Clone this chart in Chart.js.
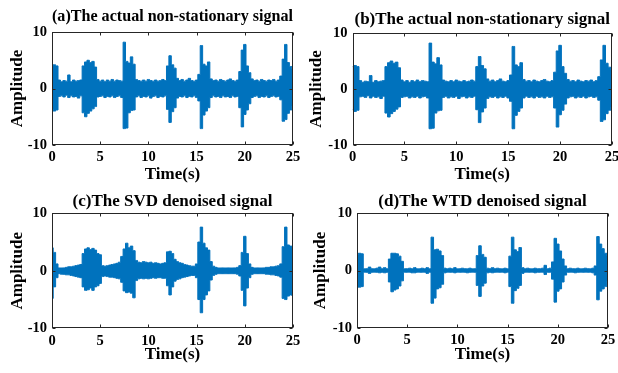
<!DOCTYPE html>
<html>
<head>
<meta charset="utf-8">
<script src="https://cdn.jsdelivr.net/npm/chart.js@4.4.1/dist/chart.umd.min.js"></script>
<style>
  body { margin: 0; background: #fff; }
  #wrap { position: relative; width: 618px; height: 373px; overflow: hidden; }
  canvas { position: absolute; }
</style>
</head>
<body>
<div id="wrap">
  <canvas id="pa" width="305" height="185" style="left:0;top:0"></canvas>
  <canvas id="pb" width="313" height="185" style="left:305px;top:0"></canvas>
  <canvas id="pc" width="305" height="188" style="left:0;top:185px"></canvas>
  <canvas id="pd" width="313" height="188" style="left:305px;top:185px"></canvas>
</div>
<script>
const step = 0.25;
const xTicks = [0, 5, 10, 15, 20, 25];
const yTicks = [-10, 0, 10];

const rawHi = [4.0,4.2,4.0,1.5,1.2,1.4,1.3,2.4,1.2,1.5,1.3,1.4,1.5,4.0,4.7,5.0,4.6,4.8,3.8,1.6,
  1.3,1.5,1.2,1.5,1.3,1.6,1.3,1.5,1.4,1.3,8.2,4.8,4.5,5.6,4.3,1.6,1.4,1.3,1.5,1.3,
  1.6,1.4,1.3,1.5,1.3,1.4,1.6,1.4,4.0,5.8,4.2,3.6,1.8,1.4,1.6,1.3,1.5,1.8,1.4,1.3,
  1.5,2.5,7.6,4.3,4.0,4.7,1.7,1.4,1.5,1.3,1.6,1.4,1.3,1.5,1.7,1.4,1.3,1.5,3.0,6.8,
  7.8,4.0,2.8,1.7,1.4,1.5,1.3,1.6,1.4,1.3,1.5,1.4,1.6,1.3,1.5,2.2,5.2,7.8,4.6,3.9,3.5];
const rawLo = [-3.7,-4.0,-3.8,-1.4,-1.3,-1.5,-1.2,-1.6,-1.3,-1.5,-1.4,-1.7,-1.3,-4.3,-5.0,-4.4,-4.0,-3.6,-3.2,-1.5,
  -1.4,-1.3,-1.6,-1.4,-1.5,-1.3,-1.6,-1.4,-1.3,-1.6,-7.1,-7.0,-4.3,-3.9,-3.8,-1.5,-1.3,-1.6,-1.4,-1.5,
  -1.3,-1.7,-1.4,-1.3,-1.6,-1.4,-1.5,-1.3,-3.7,-6.0,-4.1,-3.4,-1.7,-1.4,-1.5,-1.3,-1.6,-1.4,-1.5,-1.3,
  -1.6,-2.2,-7.1,-4.7,-4.0,-3.4,-1.6,-1.3,-1.5,-1.4,-1.6,-1.3,-1.5,-1.4,-1.6,-1.3,-1.5,-1.4,-3.4,-6.8,
  -4.6,-3.8,-2.7,-1.6,-1.4,-1.3,-1.6,-1.4,-1.5,-1.3,-1.6,-1.4,-1.3,-1.5,-1.4,-2.0,-5.8,-5.5,-4.4,-3.8,-3.2];

const svdHi = [4.0,3.2,1.2,0.5,0.5,0.5,0.6,0.7,0.7,0.8,0.9,1.0,1.1,3.0,3.8,4.0,3.7,3.9,3.6,3.0,
  2.8,0.9,0.8,0.9,1.0,1.1,1.2,1.3,1.5,2.5,3.8,4.8,4.0,4.3,3.5,1.8,1.5,1.4,1.6,1.5,
  1.4,1.5,1.3,1.4,1.3,1.2,1.3,1.4,3.3,3.4,3.0,2.0,1.6,1.4,1.3,1.1,1.0,0.9,0.8,0.8,
  1.2,5.0,7.6,4.8,4.0,3.6,1.6,0.8,0.6,0.5,0.5,0.5,0.5,0.5,0.5,0.5,0.5,0.6,0.9,3.2,
  6.0,3.0,1.2,0.6,0.5,0.5,0.5,0.5,0.5,0.6,0.6,0.7,0.7,0.8,0.9,1.2,4.2,7.6,4.5,4.3,4.2];
const svdLo = [-4.8,-2.8,-1.2,-0.5,-0.6,-0.6,-0.7,-0.7,-0.8,-0.9,-1.0,-1.1,-1.2,-2.8,-3.4,-3.3,-3.0,-3.4,-2.8,-2.6,
  -2.2,-1.0,-0.9,-1.0,-1.1,-1.1,-1.2,-1.3,-1.4,-2.0,-3.5,-3.8,-3.7,-3.9,-4.7,-1.7,-1.4,-1.3,-1.4,-1.3,
  -1.4,-1.3,-1.2,-1.3,-1.2,-1.2,-1.3,-1.3,-2.6,-4.2,-2.8,-1.8,-1.5,-1.4,-1.2,-1.1,-1.0,-0.9,-0.8,-0.8,
  -1.2,-5.0,-7.3,-5.0,-4.2,-3.5,-1.6,-0.8,-0.6,-0.5,-0.5,-0.5,-0.5,-0.5,-0.5,-0.5,-0.5,-0.6,-0.9,-3.4,
  -6.1,-3.0,-1.2,-0.6,-0.5,-0.5,-0.5,-0.5,-0.5,-0.6,-0.6,-0.7,-0.7,-0.8,-0.9,-1.1,-4.8,-5.0,-4.4,-4.2,-4.3];

const wtdHi = [2.8,3.0,2.9,0.3,0.3,0.6,0.3,0.3,0.4,0.6,0.3,0.5,0.3,2.0,3.0,3.0,2.9,2.5,1.6,0.3,
  0.3,0.4,0.3,0.5,0.3,0.3,0.4,0.3,0.5,0.3,5.8,3.6,3.7,3.4,2.6,0.4,0.3,0.4,0.3,0.5,
  0.3,0.3,0.4,0.3,0.3,0.4,0.3,0.3,2.6,4.3,2.8,2.3,0.4,0.3,0.5,0.3,0.4,0.3,0.3,0.4,
  0.3,2.5,5.8,3.6,3.3,4.0,0.5,0.3,0.4,0.3,0.3,0.4,0.3,0.3,0.4,0.9,0.3,0.4,1.5,5.6,
  4.6,3.4,2.0,0.8,0.3,0.4,0.3,0.3,0.4,0.3,0.3,0.4,0.3,0.3,0.4,0.8,5.9,4.6,3.8,3.0,2.6];
const wtdLo = [-2.9,-2.9,-2.8,-0.3,-0.3,-0.5,-0.3,-0.3,-0.3,-0.4,-0.3,-0.4,-0.3,-2.0,-3.7,-3.4,-3.2,-2.7,-1.8,-0.3,
  -0.3,-0.3,-0.4,-0.4,-0.3,-0.3,-0.3,-0.3,-0.5,-0.3,-5.7,-4.8,-3.2,-3.0,-2.4,-0.4,-0.3,-0.3,-0.3,-0.4,
  -0.3,-0.3,-0.3,-0.3,-0.4,-0.3,-0.3,-0.3,-2.6,-4.5,-2.7,-2.2,-0.4,-0.3,-0.4,-0.3,-0.3,-0.3,-0.3,-0.4,
  -0.3,-2.8,-5.7,-3.5,-3.1,-2.6,-0.5,-0.3,-0.3,-0.3,-0.3,-0.4,-0.3,-0.3,-0.3,-0.7,-0.3,-0.3,-1.5,-5.5,
  -3.6,-3.2,-2.0,-0.8,-0.3,-0.3,-0.3,-0.4,-0.3,-0.3,-0.3,-0.3,-0.3,-0.3,-0.4,-0.8,-5.1,-3.6,-3.2,-2.8,-1.9];

const blue = "#0072BD";
const ink = "#000";
Chart.defaults.font.family = "'Liberation Serif', 'Times New Roman', serif";
Chart.defaults.font.weight = "bold";
Chart.defaults.color = ink;

const toPoints = (vals) => vals.map((v, i) => ({ x: i * step, y: v }));

// draws the matlab style box with inward ticks
const boxPlugin = {
  id: "box",
  afterDraw(chart) {
    const { ctx, chartArea: a, scales } = chart;
    const L = Math.round(a.left) + 0.5, R = Math.round(a.right) - 0.5;
    const T = Math.round(a.top) + 0.5, B = Math.round(a.bottom) - 0.5;
    ctx.save();
    ctx.strokeStyle = "#262626";
    ctx.lineWidth = 1;
    ctx.strokeRect(L, T, R - L, B - T);
    ctx.beginPath();
    xTicks.forEach((v) => {
      const px = Math.round(scales.x.getPixelForValue(v)) + 0.5;
      ctx.moveTo(px, B); ctx.lineTo(px, B - 3);
      ctx.moveTo(px, T); ctx.lineTo(px, T + 3);
    });
    yTicks.forEach((v) => {
      const py = Math.round(scales.y.getPixelForValue(v)) + 0.5;
      ctx.moveTo(L, py); ctx.lineTo(L + 3, py);
      ctx.moveTo(R, py); ctx.lineTo(R - 3, py);
    });
    ctx.stroke();
    ctx.restore();
  },
};

function makePanel(id, title, hi, lo, box) {
  const canvas = document.getElementById(id);
  const w = canvas.width, h = canvas.height;
  new Chart(canvas, {
    type: "line",
    data: {
      datasets: [
        { data: toPoints(hi), borderColor: blue, backgroundColor: blue, borderWidth: 1,
          pointRadius: 0, fill: "+1", stepped: "middle" },
        { data: toPoints(lo), borderColor: blue, backgroundColor: blue, borderWidth: 1,
          pointRadius: 0, fill: false, stepped: "middle" },
      ],
    },
    options: {
      responsive: false,
      animation: false,
      events: [],
      layout: { padding: { left: 0, top: 0, right: w - box.r, bottom: 0 } },
      plugins: {
        legend: { display: false },
        tooltip: { enabled: false },
        title: {
          display: true,
          text: title,
          fullSize: false,
          color: ink,
          font: { size: 17, weight: "bold", lineHeight: 1.2 },
          padding: { top: box.tp, bottom: box.t - box.tp - 20.4 },
        },
      },
      scales: {
        x: {
          type: "linear",
          min: 0,
          max: 25,
          afterBuildTicks: (s) => { s.ticks = xTicks.map((v) => ({ value: v })); },
          afterFit: (s) => { s.height = h - box.b; s.paddingLeft = 0; s.paddingRight = 0; },
          grid: { display: false, drawTicks: false },
          border: { display: false },
          ticks: { padding: 4, maxRotation: 0, font: { size: 14.5, weight: "bold" }, color: ink },
          title: { display: true, text: "Time(s)", color: ink,
                   font: { size: 17, weight: "bold", lineHeight: 1.2 },
                   padding: { top: 0, bottom: box.xb } },
        },
        y: {
          min: -10,
          max: 10,
          afterBuildTicks: (s) => { s.ticks = yTicks.map((v) => ({ value: v })); },
          afterFit: (s) => { s.width = box.l; s.paddingTop = 0; s.paddingBottom = 0; },
          grid: { display: false, drawTicks: false },
          border: { display: false },
          ticks: { padding: 5, font: { size: 14.5, weight: "bold" }, color: ink },
          title: { display: true, text: "Amplitude", color: ink,
                   font: { size: 17, weight: "bold", lineHeight: 1.2 },
                   padding: { top: box.yt, bottom: 0 } },
        },
      },
    },
    plugins: [boxPlugin],
  });
}

makePanel("pa", "(a)The actual non-stationary signal", rawHi, rawLo,
  { l: 52, t: 32, r: 293, b: 145, tp: 6.8, xb: 0, yt: 7.3 });
makePanel("pb", "(b)The actual non-stationary signal", rawHi, rawLo,
  { l: 47.5, t: 33, r: 307, b: 145, tp: 9.7, xb: 0, yt: 1.8 });
makePanel("pc", "(c)The SVD denoised signal", svdHi, svdLo,
  { l: 52, t: 28.3, r: 293, b: 143.3, tp: 6.5, xb: 8, yt: 7.3 });
makePanel("pd", "(d)The WTD denoised signal", wtdHi, wtdLo,
  { l: 52, t: 28, r: 303, b: 143, tp: 6.5, xb: 8, yt: 5.6 });
</script>
</body>
</html>
